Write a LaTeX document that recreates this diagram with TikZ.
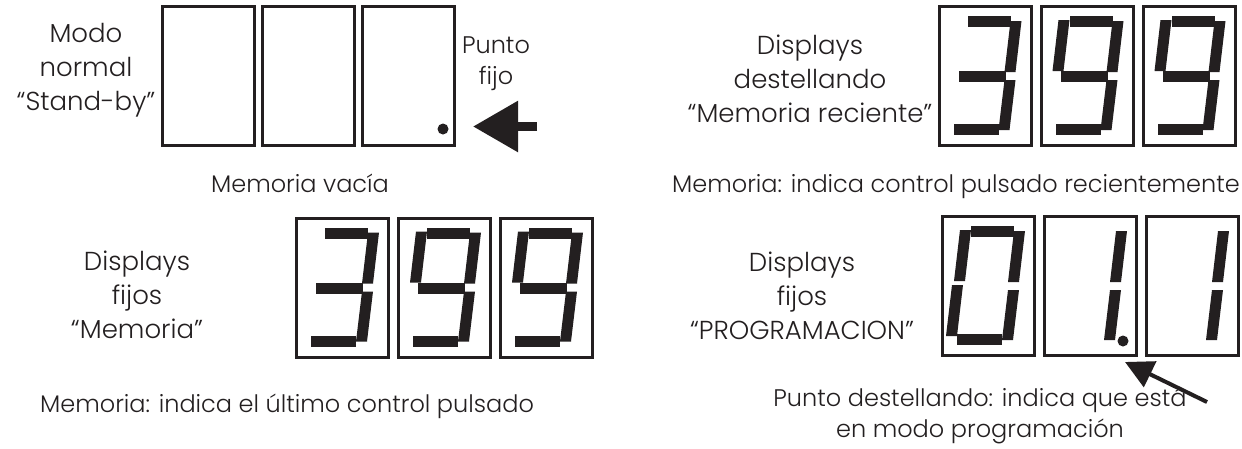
\documentclass[tikz,border=0pt]{standalone}
\usepackage{fontspec}
\IfFontExistsTF{Poppins Light}{\setmainfont{Poppins Light}}{\setmainfont{Poppins}}
\usepackage{tikz}
\usetikzlibrary{positioning,arrows.meta}

\definecolor{ink}{HTML}{231F20}

\tikzset{
  display/.style={draw=ink, line width=3pt, minimum width=92pt, minimum height=139pt, inner sep=0pt},
  seg/.style={fill=ink},
  lbl/.style={align=center, font=\fontsize{26}{34}\selectfont, text=ink, inner sep=0pt},
  caption/.style={align=center, font=\fontsize{24}{31}\selectfont, text=ink, inner sep=0pt},
  blockarrow/.style={draw=ink, line width=9pt, -{Triangle[length=45pt,width=49pt]}},
  pointer/.style={draw=ink, line width=4pt, -{Triangle[length=28pt,width=28pt]}}
}

\newcommand{\segA}{\fill[seg] (30,11) rectangle (73,22);}
\newcommand{\segB}{\fill[seg] (73,16) -- (84,16) -- (78,67) -- (67,67) -- cycle;}
\newcommand{\segC}{\fill[seg] (67,75) -- (78,75) -- (72,125) -- (61,125) -- cycle;}
\newcommand{\segD}{\fill[seg] (16,119) rectangle (61,130);}
\newcommand{\segE}{\fill[seg] (11,70) -- (22,70) -- (16,121) -- (5,121) -- cycle;}
\newcommand{\segF}{\fill[seg] (19,15) -- (30,15) -- (24,66) -- (13,66) -- cycle;}
\newcommand{\segG}{\fill[seg] (21,66) rectangle (68,77);}
\newcommand{\digitthree}{\segA\segB\segG\segC\segD}
\newcommand{\digitnine}{\segA\segF\segB\segG\segC\segD}
\newcommand{\digitzero}{\segA\segB\segC\segD\segE\segF}
\newcommand{\digitone}{\segB\segC}

\begin{document}
\begin{tikzpicture}[x=1pt, y=-1pt]
\path[fill=white] (0,0) rectangle (1242,448);
\useasboundingbox (0,0) rectangle (1242,448);

\node[display] (mv1) at (208.5,76) {};
\node[display, right=5pt of mv1] (mv2) {};
\node[display, right=5pt of mv2] (mv3) {};
\fill[ink] ([shift={(82,124)}]mv3.north west) circle (5.5);
\node[lbl] (modo) at (86,70) {Modo\\normal\\``Stand-by''};
\node[caption] (punto) at (496,64) {Punto\\fijo};
\coordinate (fijotail) at (537,126.5);
\coordinate (fijotip) at (473,126.5);
\draw[blockarrow] (fijotail) -- (fijotip);
\node[caption, anchor=base] (vacia) at (300,192) {Memoria vacía};

\node[display] (mr1) at (985,76) {};
\node[display, right=7pt of mr1] (mr2) {};
\node[display, right=7pt of mr2] (mr3) {};
\begin{scope}[shift={(mr1.north west)}]\digitthree\end{scope}
\begin{scope}[shift={(mr2.north west)}]\digitnine\end{scope}
\begin{scope}[shift={(mr3.north west)}]\digitnine\end{scope}
\node[lbl] (destella) at (810,79) {Displays\\destellando\\``Memoria reciente''};
\node[caption, anchor=base east] (reciente) at (1240,192) {Memoria: indica control pulsado recientemente};

\node[display] (mf1) at (342.5,287.5) {};
\node[display, right=7pt of mf1] (mf2) {};
\node[display, right=7pt of mf2] (mf3) {};
\begin{scope}[shift={(mf1.north west)}]\digitthree\end{scope}
\begin{scope}[shift={(mf2.north west)}]\digitnine\end{scope}
\begin{scope}[shift={(mf3.north west)}]\digitnine\end{scope}
\node[lbl] (fijos) at (137,295) {Displays\\fijos\\``Memoria''};
\node[caption, anchor=base west] (ultimo) at (40,412) {Memoria: indica el último control pulsado};

\node[display] (pg1) at (988.5,286) {};
\node[display, right=7pt of pg1] (pg2) {};
\node[display, right=7pt of pg2] (pg3) {};
\begin{scope}[shift={(pg1.north west)}]\digitzero\end{scope}
\begin{scope}[shift={(pg2.north west)}]\digitone\end{scope}
\begin{scope}[shift={(pg3.north west)}]\digitone\end{scope}
\fill[ink] ([shift={(80,126)}]pg2.north west) circle (5.5);
\node[lbl] (prog) at (802,296) {Displays\\fijos\\``PROGRAMACION''};
\node[caption] (destpunto) at (980,416) {Punto destellando: indica que está\\en modo programación};
\coordinate (progtail) at (1207,402);
\coordinate (progtip) at (1125,362);
\draw[pointer] (progtail) -- (progtip);
\end{tikzpicture}
\end{document}
